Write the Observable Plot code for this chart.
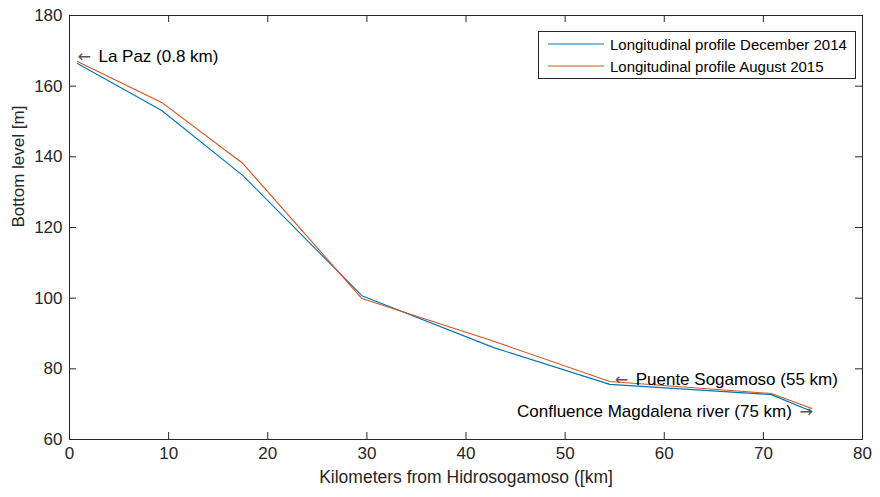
<!DOCTYPE html>
<html>
<head>
<meta charset="utf-8">
<script src="https://cdn.jsdelivr.net/npm/d3@7"></script>
<script src="https://cdn.jsdelivr.net/npm/@observablehq/plot@0.6"></script>
<style>
  html, body { margin: 0; padding: 0; background: #fff; }
  #wrap { position: relative; width: 880px; height: 497px; font-family: "Liberation Sans", Arial, Helvetica, sans-serif; }
  #legend { position: absolute; left: 538px; top: 31px; width: 316px; height: 46px; border: 1px solid #262626; background: #fff; color: #000; font-size: 15px; }
  #legend .row { position: absolute; left: 9px; display: flex; align-items: center; height: 20px; white-space: nowrap; }
  #legend svg { margin-right: 6px; }
</style>
</head>
<body>
<div id="wrap"><div id="chart"></div><div id="legend"></div></div>
<script>
// ---- data ----
const km = [0.8, 9.3, 17.5, 29.5, 42.8, 54.5, 70.8, 74.9];
const dec2014 = [166.4, 153.1, 134.7, 100.7, 86.0, 75.6, 72.7, 67.9];
const aug2015 = [167.0, 155.4, 138.1, 99.9, 87.8, 76.4, 73.0, 68.8];
const seriesNames = ["Longitudinal profile December 2014", "Longitudinal profile August 2015"];
const seriesColors = ["#0072BD", "#D95319"];
const xTicks = [0, 10, 20, 30, 40, 50, 60, 70, 80];
const yTicks = [60, 80, 100, 120, 140, 160, 180];
const xLabel = "Kilometers from Hidrosogamoso ([km]";
const yLabel = "Bottom level [m]";
const annoText = ["La Paz (0.8 km)", "Puente Sogamoso (55 km)", "Confluence Magdalena river (75 km)"];
const annoArrow = ["\u2190", "\u2190", "\u2192"];
const annoX = [0.8, 55, 75];
const annoY = [168.3, 76.9, 67.9];
const annoAnchor = ["start", "start", "end"];

// ---- build tables ----
const rows = [];
km.forEach((k, i) => {
  rows.push({km: k, level: dec2014[i], series: seriesNames[0]});
});
km.forEach((k, i) => {
  rows.push({km: k, level: aug2015[i], series: seriesNames[1]});
});
const annos = annoText.map((t, i) => ({text: t, arrow: annoArrow[i], x: annoX[i], y: annoY[i], anchor: annoAnchor[i]}));
const annoStart = annos.filter(d => d.anchor === "start");
const annoEnd = annos.filter(d => d.anchor === "end");

const axisColor = "#262626";
const arrowFont = '"DejaVu Sans", sans-serif';
const chart = Plot.plot({
  width: 880,
  height: 497,
  marginLeft: 69,
  marginRight: 18,
  marginTop: 15,
  marginBottom: 58,
  style: {fontFamily: '"Liberation Sans", Arial, Helvetica, sans-serif', background: "#fff", color: axisColor},
  x: {domain: [0, 80]},
  y: {domain: [60, 180]},
  color: {domain: seriesNames, range: seriesColors},
  marks: [
    Plot.axisX({ticks: xTicks, tickSize: 0, tickPadding: 7, label: null, fontSize: 17, fill: axisColor}),
    Plot.axisY({ticks: yTicks, tickSize: 0, tickPadding: 7, label: null, fontSize: 17, fill: axisColor}),
    // inward ticks on all four sides
    Plot.ruleX(xTicks, {x: d => d, y1: 60, y2: 60, insetTop: -7, stroke: axisColor}),
    Plot.ruleX(xTicks, {x: d => d, y1: 180, y2: 180, insetBottom: -7, stroke: axisColor}),
    Plot.ruleY(yTicks, {y: d => d, x1: 0, x2: 0, insetRight: -7, stroke: axisColor}),
    Plot.ruleY(yTicks, {y: d => d, x1: 80, x2: 80, insetLeft: -7, stroke: axisColor}),
    Plot.line(rows, {x: "km", y: "level", z: "series", stroke: "series", strokeWidth: 1.1}),
    Plot.frame({stroke: axisColor}),
    // annotation arrows
    Plot.text(annoStart, {x: "x", y: "y", text: "arrow", textAnchor: "start", fontSize: 16, fill: "#555", fontFamily: arrowFont}),
    Plot.text(annoEnd, {x: "x", y: "y", text: "arrow", textAnchor: "end", fontSize: 16, fill: "#555", fontFamily: arrowFont}),
    // annotation labels
    Plot.text(annoStart, {x: "x", y: "y", text: "text", textAnchor: "start", dx: 21, fontSize: 17, fill: "#000"}),
    Plot.text(annoEnd, {x: "x", y: "y", text: "text", textAnchor: "end", dx: -21, fontSize: 17, fill: "#000"}),
    Plot.text([xLabel], {frameAnchor: "bottom", dy: 43, fontSize: 17.5, fill: axisColor}),
    Plot.text([yLabel], {frameAnchor: "left", dx: -51, rotate: -90, fontSize: 17, fill: axisColor})
  ]
});
document.getElementById("chart").appendChild(chart);

// legend
const legend = document.getElementById("legend");
seriesNames.forEach((name, i) => {
  const row = document.createElement("div");
  row.className = "row";
  row.style.top = (2 + i * 22) + "px";
  row.innerHTML = `<svg width="56" height="4"><line x1="0" y1="2" x2="56" y2="2" stroke="${seriesColors[i]}" stroke-width="1.1"/></svg><span>${name}</span>`;
  legend.appendChild(row);
});
</script>
</body>
</html>
